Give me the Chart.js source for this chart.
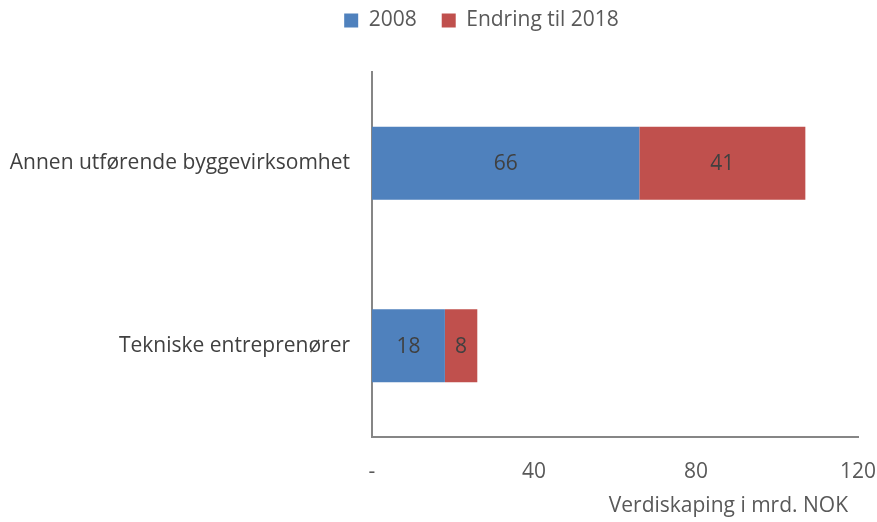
<!DOCTYPE html>
<html><head><meta charset="utf-8">
<script src="https://cdn.jsdelivr.net/npm/chart.js@4/dist/chart.umd.min.js"></script>
<style>html,body{margin:0;padding:0;background:#fff}#wrap{width:877px;height:522px}</style>
</head><body><div id="wrap"><canvas id="c" width="877" height="522"></canvas></div>
<script>
const categories = ["Annen utførende byggevirksomhet", "Tekniske entreprenører"];
const series2008 = [66, 18];
const seriesChange = [41, 8];
const seriesNames = ["2008", "Endring til 2018"];
const xTicks = [0, 40, 80, 120];
const axisTitle = "Verdiskaping i mrd. NOK";

const FONT = "'Open Sans', 'Liberation Sans', sans-serif";
const FS = 21;
const labelPlugin = {
  id: 'valueLabels',
  afterDatasetsDraw(chart) {
    const ctx = chart.ctx;
    ctx.save();
    ctx.font = FS + "px " + FONT;
    ctx.fillStyle = "#404040";
    ctx.textAlign = "center";
    ctx.textBaseline = "middle";
    chart.data.datasets.forEach((ds, i) => {
      chart.getDatasetMeta(i).data.forEach((bar, j) => {
        const p = bar.getProps(['x', 'base', 'y'], true);
        ctx.fillText(String(ds.data[j]), (p.x + p.base) / 2, p.y + 1);
      });
    });
    ctx.restore();
  }
};
const axisTitlePlugin = {
  id: 'axisTitle',
  afterDraw(chart) {
    const ctx = chart.ctx;
    ctx.save();
    ctx.font = FS + "px " + FONT;
    ctx.fillStyle = "#595959";
    ctx.textAlign = "right";
    ctx.textBaseline = "middle";
    ctx.fillText(axisTitle, chart.scales.x.right - 10, 506);
    ctx.restore();
  }
};
const legendGap = {
  id: 'legendGap',
  beforeUpdate(chart) {
    const lg = chart.legend;
    if (lg && !lg._patched) {
      const f = lg.fit;
      lg.fit = function () { f.call(this); this.height = 72; };
      lg._patched = true;
    }
  },
  afterLayout(chart) {
    const lg = chart.legend;
    lg.top = -15; lg.bottom = lg.top + 72;
    lg.left += 43; lg.right += 43;
  }
};

new Chart(document.getElementById('c'), {
  type: 'bar',
  data: {
    labels: categories,
    datasets: [
      { label: seriesNames[0], data: series2008, backgroundColor: '#4F81BD' },
      { label: seriesNames[1], data: seriesChange, backgroundColor: '#C0504D' }
    ]
  },
  options: {
    indexAxis: 'y',
    responsive: false,
    animation: false,
    devicePixelRatio: 1,
    layout: { padding: { left: 0, right: 0, top: 0, bottom: 0 } },
    datasets: { bar: { categoryPercentage: 1, barPercentage: 0.4 } },
    plugins: {
      legend: {
        position: 'top',
        labels: { font: { family: FONT, size: FS }, color: '#595959', boxWidth: 14, boxHeight: 14, padding: 25 }
      },
      tooltip: { enabled: false }
    },
    scales: {
      x: {
        stacked: true, min: 0, max: 120,
        afterBuildTicks(s) { s.ticks = xTicks.map(v => ({ value: v })); },
        afterFit(s) { s.height = 85; s.paddingRight = 19; },
        ticks: { font: { family: FONT, size: FS }, color: '#595959', maxRotation: 0, padding: 22,
          callback: v => v === 0 ? '-' : String(v) },
        grid: { display: false, drawTicks: false },
        border: { color: '#868686', width: 2 },
        title: { display: false }
      },
      y: {
        stacked: true,
        afterFit(s) { s.width = 372; },
        ticks: { font: { family: FONT, size: FS }, color: '#404040', padding: 22 },
        grid: { display: false, drawTicks: false },
        border: { color: '#868686', width: 2 }
      }
    }
  },
  plugins: [labelPlugin, legendGap, axisTitlePlugin]
});
</script></body></html>
